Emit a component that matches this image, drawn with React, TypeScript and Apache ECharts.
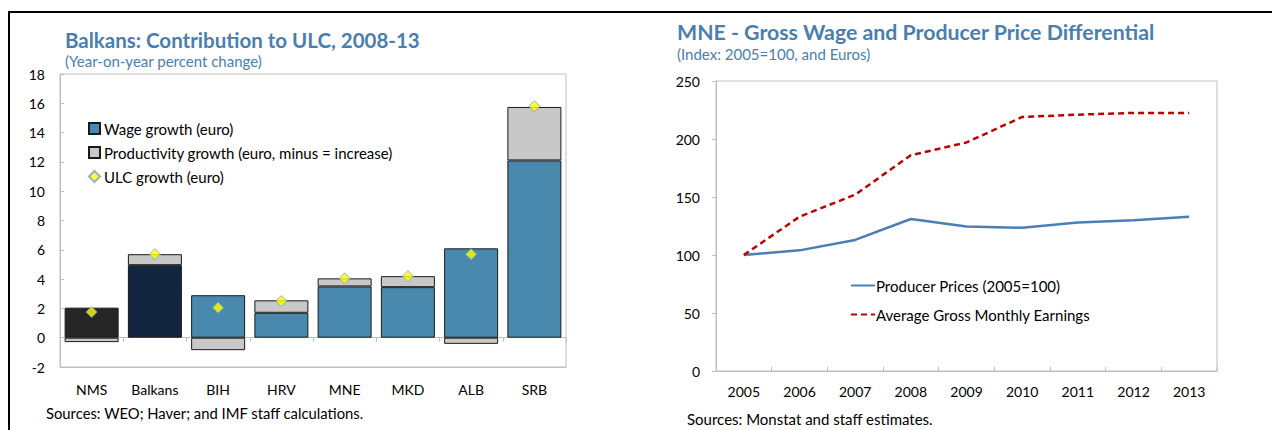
import React, { useEffect, useRef } from "react";
import * as echarts from "echarts";

const categories = ["NMS", "Balkans", "BIH", "HRV", "MNE", "MKD", "ALB", "SRB"];
const wageGrowth = [2.05, 4.95, 2.9, 1.7, 3.5, 3.45, 6.1, 12.1];
const productivityGrowth = [-0.3, 0.75, -0.85, 0.85, 0.55, 0.75, -0.42, 3.65];
const ulcGrowth = [1.75, 5.7, 2.05, 2.5, 4.05, 4.2, 5.7, 15.8];
const wageColors = ["#262626", "#14253F", "#4A89AE", "#4A89AE", "#4A89AE", "#4A89AE", "#4A89AE", "#4A89AE"];

const years = ["2005", "2006", "2007", "2008", "2009", "2010", "2011", "2012", "2013"];
const producerPrices = [100, 104, 113, 131, 124.5, 123.5, 128, 130, 133];
const grossEarnings = [100, 133, 152, 186, 197, 219, 221, 222.5, 222.5];

const FONT = "Lato";
const BLUE_TITLE = "#4A7EAF";
const GRID_GRAY = "#BFBFBF";

export default function App() {
  const ref = useRef<HTMLDivElement>(null);
  useEffect(() => {
    if (!ref.current) return;
    const chart = echarts.init(ref.current, null, { renderer: "svg" });
    const option: any = {
      animation: false,
      backgroundColor: "#FFFFFF",
      textStyle: { fontFamily: FONT },
      title: [
        { text: "Balkans: Contribution to ULC, 2008-13", left: 65, top: 29, padding: 0, textStyle: { fontFamily: FONT, fontSize: 20.5, fontWeight: "bold", color: BLUE_TITLE } },
        { text: "(Year-on-year percent change)", left: 65, top: 53, padding: 0, textStyle: { fontFamily: FONT, fontSize: 15, fontWeight: "normal", color: BLUE_TITLE } },
        { text: "Sources: WEO; Haver; and IMF staff calculations.", left: 46, top: 405, padding: 0, textStyle: { fontFamily: FONT, fontSize: 14.8, fontWeight: "normal", color: "#000" } },
        { text: "MNE - Gross Wage and Producer Price Differential", left: 677, top: 21, padding: 0, textStyle: { fontFamily: FONT, fontSize: 21.3, fontWeight: "bold", color: BLUE_TITLE } },
        { text: "(Index: 2005=100, and Euros)", left: 677, top: 46, padding: 0, textStyle: { fontFamily: FONT, fontSize: 15, fontWeight: "normal", color: BLUE_TITLE } },
        { text: "Sources: Monstat and staff estimates.", left: 687, top: 411, padding: 0, textStyle: { fontFamily: FONT, fontSize: 15, fontWeight: "normal", color: "#000" } },
      ],
      legend: [
        {
          orient: "vertical",
          left: 88,
          top: 121,
          padding: 0,
          itemGap: 9,
          itemWidth: 11,
          itemHeight: 11,
          textStyle: { fontFamily: FONT, fontSize: 15, color: "#000", padding: [0, 0, 0, -1] },
          data: [
            { name: "Wage growth (euro)", icon: "rect" },
            { name: "Productivity growth (euro, minus = increase)", icon: "rect" },
            { name: "ULC growth (euro)" },
          ],
        },
        {
          orient: "vertical",
          left: 850,
          top: 278,
          padding: 0,
          itemGap: 14,
          itemWidth: 24,
          itemHeight: 14,
          itemStyle: { color: "rgba(0,0,0,0)", borderColor: "rgba(0,0,0,0)", borderWidth: 0, opacity: 0 },
          textStyle: { fontFamily: FONT, fontSize: 15, color: "#000", padding: [0, 0, 0, -4] },
          data: ["Producer Prices (2005=100)", "Average Gross Monthly Earnings"],
        },
      ],
      grid: [
        { left: 60, top: 74, width: 506, height: 293, show: true, borderColor: GRID_GRAY, borderWidth: 1, backgroundColor: "transparent" },
        { left: 716, top: 81, width: 501, height: 290, show: true, borderColor: GRID_GRAY, borderWidth: 1, backgroundColor: "transparent" },
      ],
      xAxis: [
        {
          type: "category",
          gridIndex: 0,
          position: "bottom",
          data: categories,
          axisLine: { onZero: false, lineStyle: { color: GRID_GRAY } },
          axisTick: { show: false },
          axisLabel: { color: "#000", fontSize: 14, fontFamily: FONT, margin: 15 },
        },
        {
          type: "category",
          gridIndex: 0,
          position: "bottom",
          data: categories,
          axisLine: { onZero: true, lineStyle: { color: GRID_GRAY } },
          axisTick: { show: true, length: 4, lineStyle: { color: GRID_GRAY } },
          axisLabel: { show: false },
        },
        {
          type: "category",
          gridIndex: 1,
          data: years,
          boundaryGap: true,
          axisLine: { onZero: false, lineStyle: { color: GRID_GRAY } },
          axisTick: { show: true, inside: true, length: 4, lineStyle: { color: GRID_GRAY } },
          axisLabel: { color: "#000", fontSize: 14, fontFamily: FONT, margin: 13 },
        },
      ],
      yAxis: [
        {
          type: "value",
          gridIndex: 0,
          min: -2,
          max: 18,
          interval: 2,
          splitLine: { show: false },
          axisLine: { show: true, lineStyle: { color: GRID_GRAY } },
          axisTick: { show: true, inside: true, length: 4, lineStyle: { color: GRID_GRAY } },
          axisLabel: { color: "#000", fontSize: 14, fontFamily: FONT, margin: 15 },
        },
        {
          type: "value",
          gridIndex: 1,
          min: 0,
          max: 250,
          interval: 50,
          splitLine: { show: false },
          axisLine: { show: true, lineStyle: { color: GRID_GRAY } },
          axisTick: { show: true, length: 4, lineStyle: { color: GRID_GRAY } },
          axisLabel: { color: "#000", fontSize: 14, fontFamily: FONT, margin: 16 },
        },
      ],
      series: [
        {
          name: "Wage growth (euro)",
          type: "bar",
          xAxisIndex: 0,
          yAxisIndex: 0,
          stack: "ulc",
          barWidth: 54,
          itemStyle: { color: "#4A89AE", borderColor: "#1A1A1A", borderWidth: 1 },
          data: wageGrowth.map((v, i) => ({ value: v, itemStyle: { color: wageColors[i] } })),
        },
        {
          name: "Productivity growth (euro, minus = increase)",
          type: "bar",
          xAxisIndex: 0,
          yAxisIndex: 0,
          stack: "ulc",
          barWidth: 54,
          itemStyle: { color: "#C8C8C8", borderColor: "#1A1A1A", borderWidth: 1 },
          data: productivityGrowth,
        },
        {
          name: "ULC growth (euro)",
          type: "scatter",
          xAxisIndex: 0,
          yAxisIndex: 0,
          symbol: "diamond",
          symbolSize: 11,
          z: 5,
          itemStyle: { color: "#FFFF00", borderColor: "#6FA5C9", borderWidth: 1 },
          data: ulcGrowth,
        },
        {
          name: "Producer Prices (2005=100)",
          type: "line",
          xAxisIndex: 2,
          yAxisIndex: 1,
          symbol: "none",
          showSymbol: false,
          itemStyle: { color: "#4A7EB5" },
          lineStyle: { color: "#4A7EB5", width: 2.5 },
          data: producerPrices,
        },
        {
          name: "Average Gross Monthly Earnings",
          type: "line",
          xAxisIndex: 2,
          yAxisIndex: 1,
          symbol: "none",
          showSymbol: false,
          itemStyle: { color: "#C00000" },
          lineStyle: { color: "#C00000", width: 2.5, type: [6, 4] },
          data: grossEarnings,
        },
      ],
      graphic: [
        { type: "rect", shape: { x: 8, y: 11, width: 1264, height: 2 }, style: { fill: "#000" }, silent: true },
        { type: "rect", shape: { x: 8, y: 11, width: 2, height: 419 }, style: { fill: "#000" }, silent: true },
      ],
    };
    chart.setOption(option);
    return () => chart.dispose();
  }, []);
  return <div ref={ref} style={{ position: "absolute", left: 0, top: 0, width: 1272, height: 430 }} />;
}
